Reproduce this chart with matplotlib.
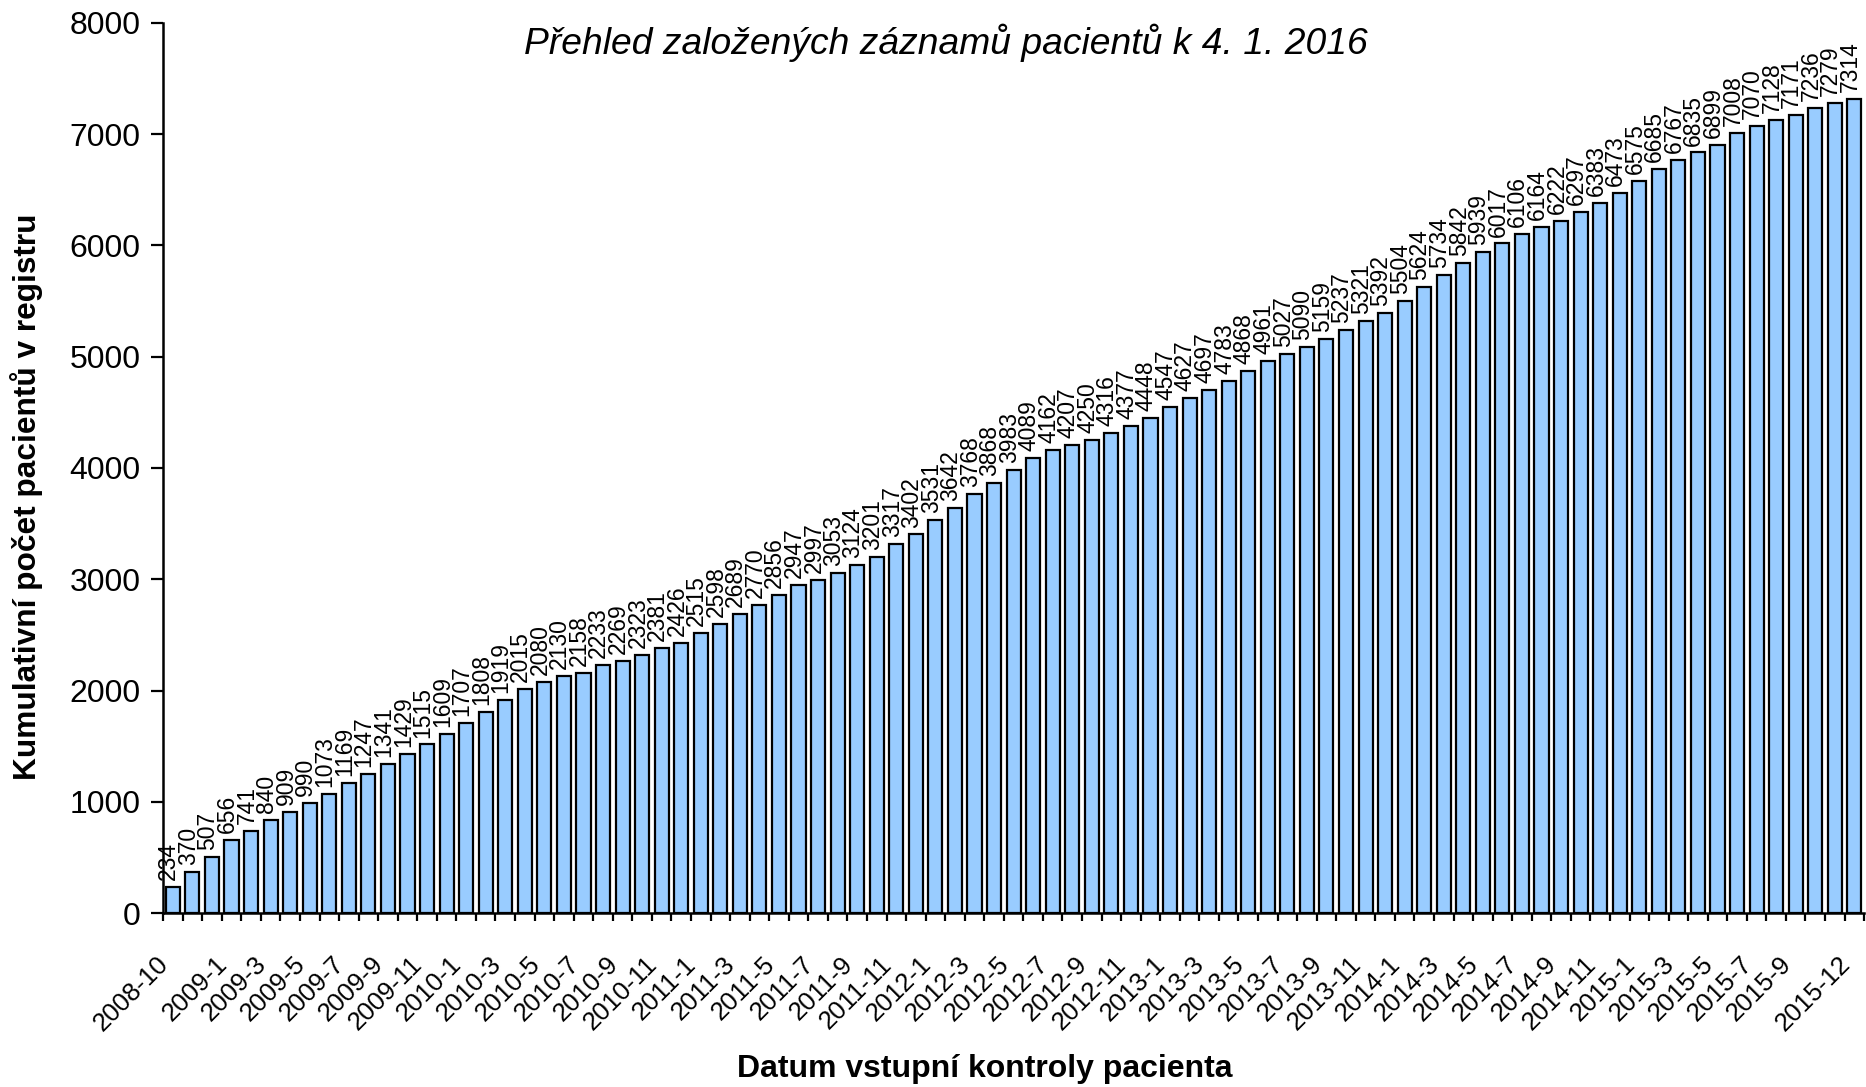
import matplotlib
matplotlib.use("Agg")
import matplotlib.pyplot as plt
import matplotlib.transforms as mtransforms
import numpy as np

plt.rcParams["font.family"] = ["Liberation Sans", "DejaVu Sans"]

# months 2008-10 .. 2015-12
months = ["%d-%d" % (2008 + (9 + i) // 12, (9 + i) % 12 + 1) for i in range(87)]
counts = [234, 370, 507, 656, 741, 840, 909, 990, 1073, 1169, 1247, 1341, 1429, 1515,
          1609, 1707, 1808, 1919, 2015, 2080, 2130, 2158, 2233, 2269, 2323, 2381, 2426,
          2515, 2598, 2689, 2770, 2856, 2947, 2997, 3053, 3124, 3201, 3317, 3402, 3531,
          3642, 3768, 3868, 3983, 4089, 4162, 4207, 4250, 4316, 4377, 4448, 4547, 4627,
          4697, 4783, 4868, 4961, 5027, 5090, 5159, 5237, 5321, 5392, 5504, 5624, 5734,
          5842, 5939, 6017, 6106, 6164, 6222, 6297, 6383, 6473, 6575, 6685, 6767, 6835,
          6899, 7008, 7070, 7128, 7171, 7236, 7279, 7314]
# which month labels are shown on the axis
shown = ["2008-10"] + months[3:84:2] + ["2015-12"]

title = "Přehled založených záznamů pacientů k 4. 1. 2016"
xlabel = "Datum vstupní kontroly pacienta"
ylabel = "Kumulativní počet pacientů v registru"

fig = plt.figure(figsize=(18.66, 10.87), dpi=100)
ax = fig.add_axes([0.0874, 0.160, 0.9116, 0.819])

x = np.arange(len(counts))
ax.bar(x, counts, width=0.72, color="#99ccff", edgecolor="black", linewidth=1.6)

for xi, c in zip(x, counts):
    ax.annotate(str(c), (xi, c), xytext=(-3, 5), textcoords="offset points",
                rotation=90, ha="center", va="bottom", fontsize=16.5)

ax.set_xlim(-0.5, len(counts) - 0.5)
ax.set_ylim(0, 8000)
ax.set_yticks(np.arange(0, 8001, 1000))
ax.tick_params(axis="y", labelsize=23, length=9, width=1.6, pad=7, direction="out")

pos = [months.index(m) for m in shown]
ax.set_xticks(pos)
ax.set_xticklabels(shown, rotation=45, ha="right", va="top", rotation_mode="anchor", fontsize=18.5)
ax.set_xticks(np.arange(-0.5, len(counts), 1), minor=True)
ax.tick_params(axis="x", which="major", length=0, pad=28)
ax.tick_params(axis="x", which="minor", length=6, width=1.6, direction="out")
shift = mtransforms.ScaledTranslation(-12 / 72, 0, fig.dpi_scale_trans)
for lab in ax.get_xticklabels():
    lab.set_transform(lab.get_transform() + shift)

for s in ["top", "right"]:
    ax.spines[s].set_visible(False)
for s in ["left", "bottom"]:
    ax.spines[s].set_linewidth(1.8)

fig.text(0.507, 0.961, title, ha="center", va="center", fontsize=26.8, style="italic")
fig.text(0.528, 0.017, xlabel, ha="center", va="center", fontsize=23, fontweight="bold")
fig.text(0.014, 0.543, ylabel, ha="center", va="center", fontsize=22.8, fontweight="bold",
         rotation=90)

fig.savefig("out.png", dpi=100)
